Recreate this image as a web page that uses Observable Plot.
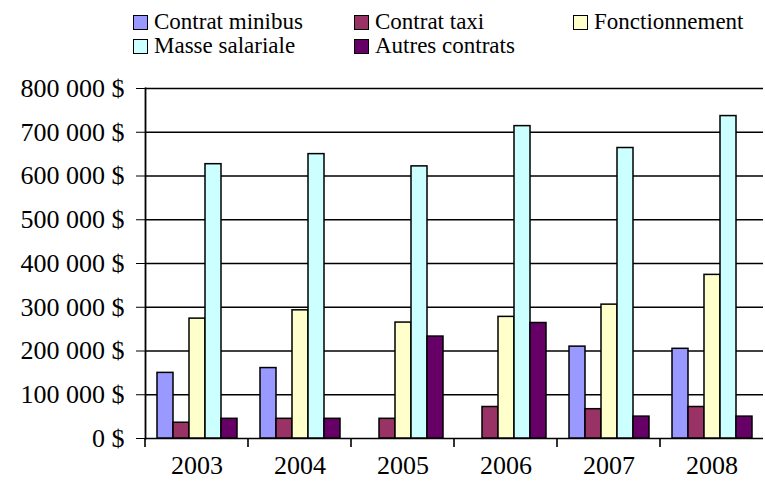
<!DOCTYPE html>
<html><head><meta charset="utf-8">
<script src="https://cdn.jsdelivr.net/npm/d3@7"></script>
<script src="https://cdn.jsdelivr.net/npm/@observablehq/plot@0.6"></script>
<style>
body{margin:0;background:#fff;font-family:"Liberation Serif",serif;color:#000;}
#legend{height:60px;box-sizing:border-box;padding:10px 0 0 133px;display:grid;grid-template-columns:221px 219px auto;grid-auto-rows:24px;font-size:23px;}
.item{display:flex;align-items:center;white-space:nowrap;}
.sw{width:13px;height:13px;border:1.5px solid #000;margin-right:6px;flex:none;}
</style></head><body>
<div id="legend"></div><div id="chart"></div>
<script>
const years = ["2003","2004","2005","2006","2007","2008"];
const series = ["Contrat minibus","Contrat taxi","Fonctionnement","Masse salariale","Autres contrats"];
const colors = ["#9999FF","#993366","#FFFFCC","#CCFFFF","#660066"];
const minibus = [150000,161000,0,0,210000,205000];
const taxi = [36000,45000,45000,72000,67000,72000];
const fonctionnement = [274000,293000,265000,278000,306000,374000];
const masse = [627000,650000,622000,714000,664000,737000];
const autres = [45000,45000,233000,264000,50000,50000];
const yTicks = [0,100000,200000,300000,400000,500000,600000,700000,800000];

const values = [minibus, taxi, fonctionnement, masse, autres];
const data = [];
years.forEach((yr,i)=>series.forEach((s,j)=>{ if (values[j][i] > 0) data.push({year:yr, series:s, value:values[j][i]}); }));

const legend = document.getElementById("legend");
series.forEach((s,j)=>{
  const d = document.createElement("div"); d.className="item";
  const sw = document.createElement("span"); sw.className="sw"; sw.style.background=colors[j];
  d.appendChild(sw); d.appendChild(document.createTextNode(s)); legend.appendChild(d);
});

const fmt = d => d3.format(",")(d).replace(/,/g," ") + " $";

const plot = Plot.plot({
  width: 765, height: 431,
  marginLeft: 142, marginRight: 0, marginTop: 28, marginBottom: 53,
  style: {fontFamily: '"Liberation Serif", serif', fontSize: "26px", color: "#000", background: "#fff", overflow: "visible"},
  fx: {domain: years, padding: 0, label: null, tickSize: 0, tickPadding: 17},
  x: {domain: series, paddingInner: 0, paddingOuter: 0.705, axis: null},
  y: {domain: [0, 800000], ticks: yTicks, tickFormat: fmt, tickSize: 9, tickPadding: 12, label: null},
  color: {domain: series, range: colors},
  marks: [
    Plot.ruleY(yTicks, {stroke: "#000", strokeWidth: 1.6}),
    Plot.barY(data, {fx: "year", x: "series", y: "value", fill: "series", stroke: "#000", strokeWidth: 1.5}),
    Plot.frame({anchor: "left", facet: "super", stroke: "#000", strokeWidth: 1.8})
  ]
});
document.getElementById("chart").appendChild(plot);

// boundary tick marks below the category axis, from the fx and y scales
const fx = plot.scale("fx"), ys = plot.scale("y");
const y0 = ys.apply(0);
const svg = d3.select(plot);
years.forEach(yr => {
  const x = fx.apply(yr);
  svg.append("line").attr("x1", x).attr("x2", x).attr("y1", y0).attr("y2", y0 + 9)
    .attr("stroke", "#000").attr("stroke-width", 1.6);
});
</script>
</body></html>
